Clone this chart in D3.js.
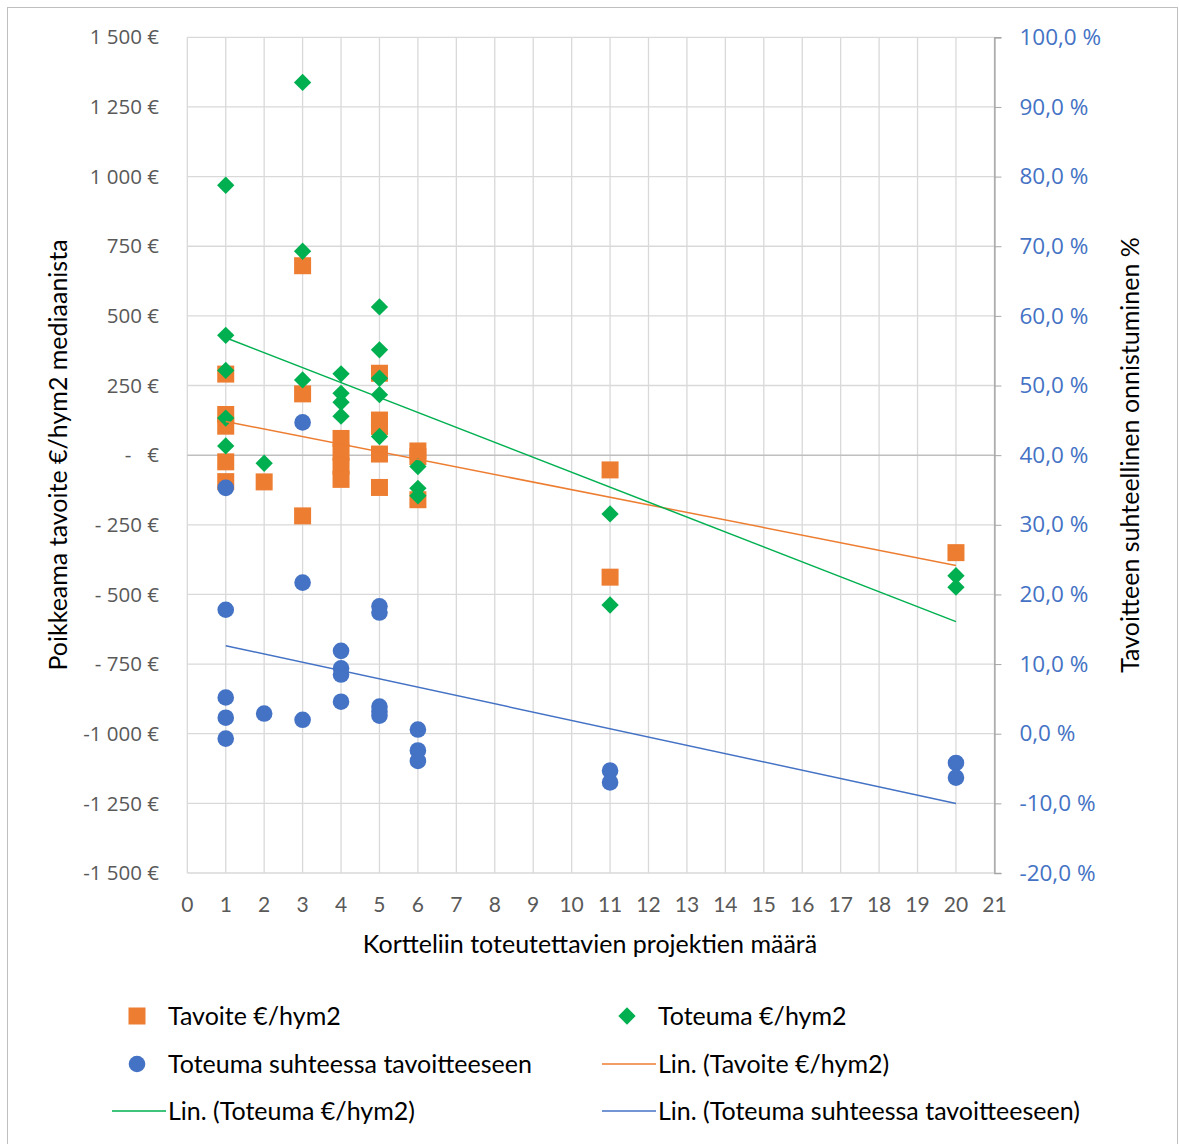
<!DOCTYPE html>
<html>
<head>
<meta charset="utf-8">
<script src="https://cdn.jsdelivr.net/npm/d3@7"></script>
<style>
  body { margin: 0; background: #fff; }
  svg text { font-family: Lato, "Open Sans", sans-serif; }
</style>
</head>
<body>
<svg id="chart" width="1179" height="1144"></svg>
<script>
// project count per block (x) and values
const tavoiteX = [1, 1, 1, 1, 1, 2, 3, 3, 3, 4, 4, 4, 4, 5, 5, 5, 5, 5, 6, 6, 6, 11, 11, 20];
const tavoiteY = [291, 146, 104, -24, -95, -96, 680, 220, -218, 60, 10, -40, -87, 294, 126, 103, 4, -116, 15, -5, -160, -53, -438, -350];

const toteumaX = [1, 1, 1, 1, 1, 2, 3, 3, 3, 4, 4, 4, 4, 5, 5, 5, 5, 5, 6, 6, 6, 11, 11, 20, 20];
const toteumaY = [969, 430, 304, 133, 33, -29, 1338, 732, 270, 292, 222, 190, 140, 532, 378, 276, 217, 67, -41, -119, -146, -211, -538, -433, -474];

const suhdeX = [1, 1, 1, 1, 1, 2, 3, 3, 3, 4, 4, 4, 4, 5, 5, 5, 5, 5, 6, 6, 6, 11, 11, 20, 20];
const suhdeY = [35.3, 17.8, 5.2, 2.3, -0.7, 2.9, 44.7, 21.7, 2.0, 11.9, 9.4, 8.5, 4.6, 18.3, 17.4, 3.9, 3.2, 2.6, 0.6, -2.4, -3.9, -5.3, -7.0, -4.2, -6.3];

const xTicks = d3.range(0, 22);
const leftTicks = [1500, 1250, 1000, 750, 500, 250, 0, -250, -500, -750, -1000, -1250, -1500];
const leftTickLabels = ["1 500 €", "1 250 €", "1 000 €", "750 €", "500 €", "250 €", "-\u00a0\u00a0\u00a0€", "- 250 €", "- 500 €", "- 750 €", "-1 000 €", "-1 250 €", "-1 500 €"];
const rightTicks = [100, 90, 80, 70, 60, 50, 40, 30, 20, 10, 0, -10, -20];

const orange = "#ED7D31", green = "#00B050", blue = "#4472C4";

const svg = d3.select("#chart");

// outer frame
svg.append("rect")
  .attr("x", 7.5).attr("y", 7.5)
  .attr("width", 1170).attr("height", 1140)
  .attr("fill", "none").attr("stroke", "#bfbfbf");

const x = d3.scaleLinear().domain([0, 21]).range([187.3, 994.4]);
const yL = d3.scaleLinear().domain([-1500, 1500]).range([873, 37.3]);
const yR = d3.scaleLinear().domain([-20, 100]).range([873, 37.3]);

// gridlines
svg.append("g").selectAll("line").data(xTicks.slice(1)).join("line")
  .attr("x1", d => x(d)).attr("x2", d => x(d))
  .attr("y1", yL(1500)).attr("y2", yL(-1500))
  .attr("stroke", "#d9d9d9").attr("stroke-width", 1.3);
svg.append("g").selectAll("line").data(leftTicks.filter(d => d !== 0)).join("line")
  .attr("x1", x(0)).attr("x2", x(21))
  .attr("y1", d => yL(d)).attr("y2", d => yL(d))
  .attr("stroke", "#d9d9d9").attr("stroke-width", 1.3);

// left axis line and zero line
svg.append("line")
  .attr("x1", x(0)).attr("x2", x(0)).attr("y1", yL(1500)).attr("y2", yL(-1500))
  .attr("stroke", "#d9d9d9").attr("stroke-width", 1.3);
svg.append("line")
  .attr("x1", x(0)).attr("x2", x(21)).attr("y1", yL(0)).attr("y2", yL(0))
  .attr("stroke", "#bfbfbf").attr("stroke-width", 1.5);

// right axis
const rightAxis = d3.axisRight(yR).tickValues(rightTicks).tickSize(7).tickPadding(18)
  .tickFormat(d => d3.format(".1f")(d).replace(".", ",").replace("−", "-") + " %");
const gR = svg.append("g").attr("transform", `translate(${x(21)},0)`).call(rightAxis);
gR.select(".domain").attr("stroke", "#a6a6a6").attr("stroke-width", 1.5);
gR.selectAll(".tick line").attr("stroke", "#a6a6a6");
gR.selectAll(".tick text").attr("fill", blue).attr("font-size", 22.5)
  .style("font-family", "'Open Sans', sans-serif");

// left tick labels
svg.append("g").selectAll("text").data(leftTicks).join("text")
  .attr("x", 159).attr("y", d => yL(d)).attr("dy", "0.35em")
  .attr("text-anchor", "end").attr("fill", "#595959").attr("font-size", 20.5)
  .style("font-family", "'Open Sans', sans-serif")
  .text((d, i) => leftTickLabels[i]);

// x tick labels
svg.append("g").selectAll("text").data(xTicks).join("text")
  .attr("x", d => x(d)).attr("y", 905).attr("dy", "0.35em")
  .attr("text-anchor", "middle").attr("fill", "#595959").attr("font-size", 21)
  .text(d => d);

// axis titles
svg.append("text").attr("x", 590).attr("y", 944).attr("dy", "0.35em")
  .attr("text-anchor", "middle").attr("font-size", 25).attr("fill", "#000")
  .text("Kortteliin toteutettavien projektien määrä");
svg.append("text").attr("transform", "translate(58,455) rotate(-90)").attr("dy", "0.35em")
  .attr("text-anchor", "middle").attr("font-size", 25).attr("fill", "#000")
  .text("Poikkeama tavoite €/hym2 mediaanista");
svg.append("text").attr("transform", "translate(1130,455) rotate(-90)").attr("dy", "0.35em")
  .attr("text-anchor", "middle").attr("font-size", 25).attr("fill", "#000")
  .text("Tavoitteen suhteellinen onnistuminen %");

// linear trendlines (least squares, like the spreadsheet)
function fit(xs, ys) {
  const mx = d3.mean(xs), my = d3.mean(ys);
  const b = d3.sum(xs, (v, i) => (v - mx) * (ys[i] - my)) / d3.sum(xs, v => (v - mx) ** 2);
  return v => my + b * (v - mx);
}
function trend(xs, ys, yScale, color) {
  const f = fit(xs, ys);
  const x0 = d3.min(xs), x1 = d3.max(xs);
  svg.append("line")
    .attr("x1", x(x0)).attr("y1", yScale(f(x0)))
    .attr("x2", x(x1)).attr("y2", yScale(f(x1)))
    .attr("stroke", color).attr("stroke-width", 1.5);
}

// points
const sq = d3.symbol().type(d3.symbolSquare);
svg.append("g").selectAll("path").data(tavoiteX).join("path")
  .attr("d", sq.size(289)())
  .attr("transform", (d, i) => `translate(${x(d)},${yL(tavoiteY[i])})`)
  .attr("fill", orange);
svg.append("g").selectAll("path").data(toteumaX).join("path")
  .attr("d", sq.size(150)())
  .attr("transform", (d, i) => `translate(${x(d)},${yL(toteumaY[i])}) rotate(45)`)
  .attr("fill", green);
svg.append("g").selectAll("circle").data(suhdeX).join("circle")
  .attr("cx", d => x(d)).attr("cy", (d, i) => yR(suhdeY[i])).attr("r", 8.3)
  .attr("fill", blue);

trend(tavoiteX, tavoiteY, yL, orange);
trend(toteumaX, toteumaY, yL, green);
trend(suhdeX, suhdeY, yR, blue);

// legend
const legend = svg.append("g").attr("font-size", 25).attr("fill", "#000");
const legendItems = [
  { label: "Tavoite €/hym2", kind: "square", color: orange, lx: 137, tx: 168, y: 1016 },
  { label: "Toteuma €/hym2", kind: "diamond", color: green, lx: 627, tx: 658, y: 1016 },
  { label: "Toteuma suhteessa tavoitteeseen", kind: "circle", color: blue, lx: 137, tx: 168, y: 1064 },
  { label: "Lin. (Tavoite €/hym2)", kind: "line", color: orange, lx: 629, tx: 658, y: 1064 },
  { label: "Lin. (Toteuma €/hym2)", kind: "line", color: green, lx: 139, tx: 168, y: 1111 },
  { label: "Lin. (Toteuma suhteessa tavoitteeseen)", kind: "line", color: blue, lx: 629, tx: 658, y: 1111 }
];
legendItems.forEach(it => {
  if (it.kind === "square") {
    legend.append("path").attr("d", sq.size(289)()).attr("fill", it.color)
      .attr("transform", `translate(${it.lx},${it.y})`);
  } else if (it.kind === "diamond") {
    legend.append("path").attr("d", sq.size(150)()).attr("fill", it.color)
      .attr("transform", `translate(${it.lx},${it.y}) rotate(45)`);
  } else if (it.kind === "circle") {
    legend.append("circle").attr("cx", it.lx).attr("cy", it.y).attr("r", 8.3).attr("fill", it.color);
  } else {
    legend.append("line").attr("x1", it.lx - 27).attr("x2", it.lx + 27)
      .attr("y1", it.y).attr("y2", it.y).attr("stroke", it.color).attr("stroke-width", 1.5);
  }
  legend.append("text").attr("x", it.tx).attr("y", it.y).attr("dy", "0.35em").text(it.label);
});
</script>
</body>
</html>
